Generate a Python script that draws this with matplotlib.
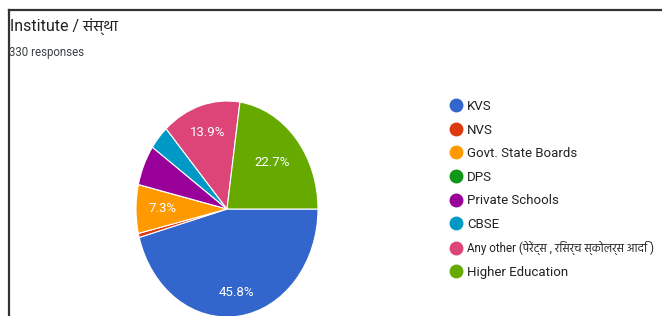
import numpy as np
import matplotlib
matplotlib.use("Agg")
from matplotlib import pyplot as plt
from matplotlib.lines import Line2D

plt.rcParams['font.family'] = ['Roboto', 'Hind', 'Noto Sans', 'DejaVu Sans']

# responses per option (330 total)
categories = ["KVS", "NVS", "Govt. State Boards", "DPS", "Private Schools", "CBSE",
              "Any other (पेरेंट्स , रिसर्च स्कोलर्स आदि )", "Higher Education"]
counts = [151, 2, 24, 0, 20, 12, 46, 75]
colors = ["#3366cc", "#dc3912", "#ff9900", "#109618", "#990099", "#0099c6", "#dd4477", "#66aa00"]
# only the bigger slices carry a percent label
show_label = [True, False, True, False, False, False, True, True]
label_radius = [0.78, 0.7, 0.71, 0.7, 0.7, 0.7, 0.74, 0.66]

W, H = 662, 316
fig = plt.figure(figsize=(W / 100, H / 100), dpi=100)

# pie is stretched vertically in the screenshot
cx, cy, rx, ry = 227, 107, 91, 108
ax = fig.add_axes([(cx - rx) / W, (cy - ry) / H, 2 * rx / W, 2 * ry / H])
wedges, _ = ax.pie(counts, colors=colors, startangle=0, counterclock=False,
                   wedgeprops=dict(edgecolor="white", linewidth=0.8))
ax.set_aspect("auto")
ax.set_xlim(-1, 1)
ax.set_ylim(-1, 1)
ax.axis("off")

total = float(sum(counts))
for w, c, show, r in zip(wedges, counts, show_label, label_radius):
    if not show:
        continue
    mid = np.deg2rad((w.theta1 + w.theta2) / 2)
    ax.text(r * np.cos(mid), r * np.sin(mid), "%.1f%%" % (100 * c / total),
            ha="center", va="center", color="white", fontsize=9.5)

handles = [Line2D([], [], marker="o", linestyle="none", markersize=9,
                  markerfacecolor=col, markeredgecolor=col) for col in colors]
leg = fig.legend(handles, categories, loc="upper left", bbox_to_anchor=(448 / W, 1 - 100 / H),
                 frameon=False, fontsize=9.5, handletextpad=0.24, labelspacing=0.8,
                 handlelength=1.2, borderaxespad=0, borderpad=0)
for t in leg.get_texts():
    t.set_color("#222222")
# long mixed-script label: a touch smaller so it stays inside the picture
leg.get_texts()[6].set_fontsize(8.4)

fig.text(10 / W, 1 - 31 / H, "Institute / संस्था", fontsize=11.5, color="#202124",
         va="baseline", ha="left")
fig.text(9 / W, 1 - 56 / H, "330 responses", fontsize=8.3, color="#3c4043",
         va="baseline", ha="left")

# screenshot frame (top and left edge)
fig.add_artist(Line2D([9 / W, 1], [1 - 9.5 / H, 1 - 9.5 / H], color="#333333", linewidth=1.6))
fig.add_artist(Line2D([9 / W, 9 / W], [0, 1 - 9.5 / H], color="#333333", linewidth=1.6))

fig.savefig("out.png", dpi=100)
